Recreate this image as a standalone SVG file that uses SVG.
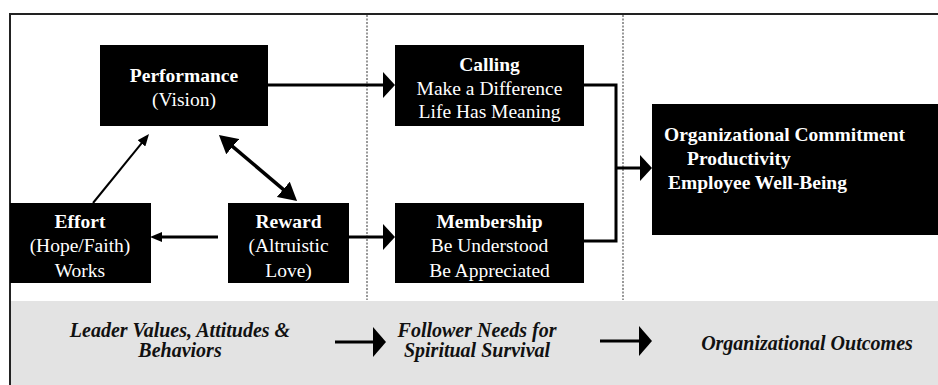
<svg xmlns="http://www.w3.org/2000/svg" width="938" height="385" viewBox="0 0 938 385">
<style>
.box{fill:#000}
.t{font-family:"Liberation Serif","Times New Roman",serif;font-size:19.5px;fill:#fff;text-anchor:middle}
.b{font-weight:bold}
.l{text-anchor:start}
.bt{font-family:"Liberation Serif","Times New Roman",serif;font-size:20px;fill:#111;font-weight:bold;font-style:italic;text-anchor:middle}
.c{fill:none;stroke:#000;stroke-width:3}
.thin{fill:none;stroke:#000;stroke-width:2}
.div{stroke:#555;stroke-width:1.2;stroke-dasharray:2 1.5}
</style>
<defs>
<marker id="big" viewBox="0 0 12 26" markerUnits="userSpaceOnUse" markerWidth="12" markerHeight="26" refX="2" refY="13" orient="auto"><path d="M0,0 L12,13 L0,26 z" fill="#000"/></marker>
<marker id="small" viewBox="0 0 12 10" markerUnits="userSpaceOnUse" markerWidth="12" markerHeight="10" refX="2" refY="5" orient="auto"><path d="M0,0 L12,5 L0,10 z" fill="#000"/></marker>
<marker id="dbl" viewBox="0 0 18 20" markerUnits="userSpaceOnUse" markerWidth="18" markerHeight="20" refX="3" refY="10" orient="auto-start-reverse"><path d="M0,0 L18,10 L0,20 z" fill="#000"/></marker>
<marker id="bot" viewBox="0 0 13 30" markerUnits="userSpaceOnUse" markerWidth="13" markerHeight="30" refX="2" refY="15" orient="auto"><path d="M0,0 L13,15 L0,30 z" fill="#000"/></marker>
</defs>
<rect x="0" y="0" width="938" height="385" fill="#fff"/>
<g id="frame">
<rect x="11" y="301" width="927" height="84" fill="#e3e3e3"/>
<line x1="10" y1="14" x2="938" y2="14" stroke="#222" stroke-width="2"/>
<line x1="10" y1="13" x2="10" y2="385" stroke="#222" stroke-width="2"/>
<line class="div" x1="367" y1="15" x2="367" y2="300"/>
<line class="div" x1="623" y1="15" x2="623" y2="300"/>
</g>
<g id="performance">
<rect class="box" x="100" y="45" width="168" height="81"/>
<text class="t b" x="184" y="82">Performance</text>
<text class="t" x="184" y="106">(Vision)</text>
</g>
<g id="calling">
<rect class="box" x="395" y="45" width="189" height="81"/>
<text class="t b" x="489.5" y="71">Calling</text>
<text class="t" x="489.5" y="95">Make a Difference</text>
<text class="t" x="489.5" y="118">Life Has Meaning</text>
</g>
<g id="effort">
<rect class="box" x="10" y="203" width="141" height="80"/>
<text class="t b" x="80" y="228">Effort</text>
<text class="t" x="80" y="252">(Hope/Faith)</text>
<text class="t" x="80" y="277">Works</text>
</g>
<g id="reward">
<rect class="box" x="228" y="203" width="121" height="80"/>
<text class="t b" x="288.5" y="228">Reward</text>
<text class="t" x="288.5" y="252">(Altruistic</text>
<text class="t" x="288.5" y="277">Love)</text>
</g>
<g id="membership">
<rect class="box" x="395" y="203" width="189" height="80"/>
<text class="t b" x="489.5" y="228">Membership</text>
<text class="t" x="489.5" y="252">Be Understood</text>
<text class="t" x="489.5" y="277">Be Appreciated</text>
</g>
<g id="outcomes">
<rect class="box" x="652" y="104" width="286" height="131"/>
<text class="t b l" x="664" y="141">Organizational Commitment</text>
<text class="t b l" x="687" y="165">Productivity</text>
<text class="t b l" x="668" y="189">Employee Well-Being</text>
</g>
<g id="legend">
<text class="bt" x="180" y="337">Leader Values, Attitudes &amp;</text>
<text class="bt" x="180" y="357">Behaviors</text>
<text class="bt" x="477" y="337">Follower Needs for</text>
<text class="bt" x="477" y="357">Spiritual Survival</text>
<text class="bt" x="807" y="350">Organizational Outcomes</text>
</g>
<g id="connectors">
<line class="c" x1="268" y1="85" x2="385" y2="85" marker-end="url(#big)"/>
<line class="thin" x1="93" y1="203" x2="142.7" y2="141.8" marker-end="url(#small)"/>
<line x1="230.4" y1="144.7" x2="285.6" y2="191.3" stroke="#000" stroke-width="3.5" marker-start="url(#dbl)" marker-end="url(#dbl)"/>
<line class="c" x1="218" y1="237" x2="160" y2="237" stroke-width="2.5" marker-end="url(#small)"/>
<line class="c" x1="349" y1="237" x2="385" y2="237" marker-end="url(#big)"/>
<polyline class="c" points="584,85 616,85 616,241 584,241"/>
<line class="c" x1="616" y1="168" x2="642" y2="168" marker-end="url(#big)"/>
<line class="c" x1="335" y1="342" x2="375" y2="342" stroke-width="4" marker-end="url(#bot)"/>
<line class="c" x1="600" y1="341" x2="641" y2="341" stroke-width="4" marker-end="url(#bot)"/>
</g>
</svg>
